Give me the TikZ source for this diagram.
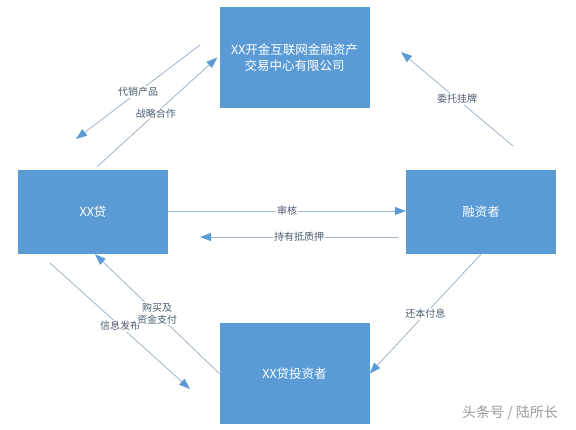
\documentclass[tikz,border=0pt]{standalone}
\usepackage{fontspec}
\setmainfont{Noto Sans CJK SC}
\usetikzlibrary{arrows.meta}
\definecolor{boxblue}{HTML}{5B9BD5}
\definecolor{linegray}{HTML}{9FB3CB}
\definecolor{labelgray}{HTML}{4A5B70}
\tikzset{
	box/.style={fill=boxblue, text=white, minimum width=150pt, align=center, font=\fontsize{12.5}{16}\selectfont},
	flow/.style={draw=linegray, line width=.8pt, -{Triangle[length=11pt,width=8pt,fill=boxblue,color=boxblue]}},
	lbl/.style={fill=white, text=labelgray, inner sep=1pt, align=center, font=\fontsize{10}{12}\selectfont}
}
\begin{document}
\begin{tikzpicture}[x=1pt, y=-1pt, line join=round, line cap=round]
	\useasboundingbox (0,0) rectangle (576,430);
	% boxes
	\node[box, minimum height=101pt] (jys) at (294.5,57.5) {XX开金互联网金融资产\\交易中心有限公司};
	\node[box, minimum height=84pt] (xd) at (93,212) {XX贷};
	\node[box, minimum height=84pt] (rzz) at (481,212) {融资者};
	\node[box, minimum height=101pt] (tzz) at (294.5,373.5) {XX贷投资者};
	% free ends
	\coordinate (dx1) at (200,45);  \coordinate (dx2) at (76,139);
	\coordinate (wt1) at (513,146); \coordinate (wt2) at (401,52);
	\coordinate (cy1) at (398,237); \coordinate (cy2) at (200,237);
	\coordinate (xx1) at (50,263);  \coordinate (xx2) at (190,389);
	% connectors
	\draw[flow] (dx1) -- (dx2) node[lbl, pos=.5] {代销产品};
	\draw[flow] ([xshift=4pt,yshift=3pt]xd.north) -- ([xshift=-2pt]jys.west) node[lbl, pos=.49] {战略合作};
	\draw[flow] (wt1) -- (wt2) node[lbl, pos=.5] {委托挂牌};
	\draw[flow] ([yshift=1pt]xd.east) -- ([yshift=1pt]rzz.west) node[lbl, pos=.5] {审核};
	\draw[flow] (cy1) -- (cy2) node[lbl, pos=.5] {持有抵质押};
	\draw[flow] (xx1) -- (xx2) node[lbl, pos=.5] {信息发布};
	\draw[flow] (tzz.west) -- ([xshift=2pt]xd.south) node[lbl, pos=.5] {购买及\\资金支付};
	\draw[flow] (rzz.south) -- (tzz.east) node[lbl, pos=.5] {还本付息};
	% watermark
	\node[text=gray!80, font=\fontsize{14}{16}\selectfont] (wm) at (510,413) {头条号 / 陆所长};
\end{tikzpicture}
\end{document}
